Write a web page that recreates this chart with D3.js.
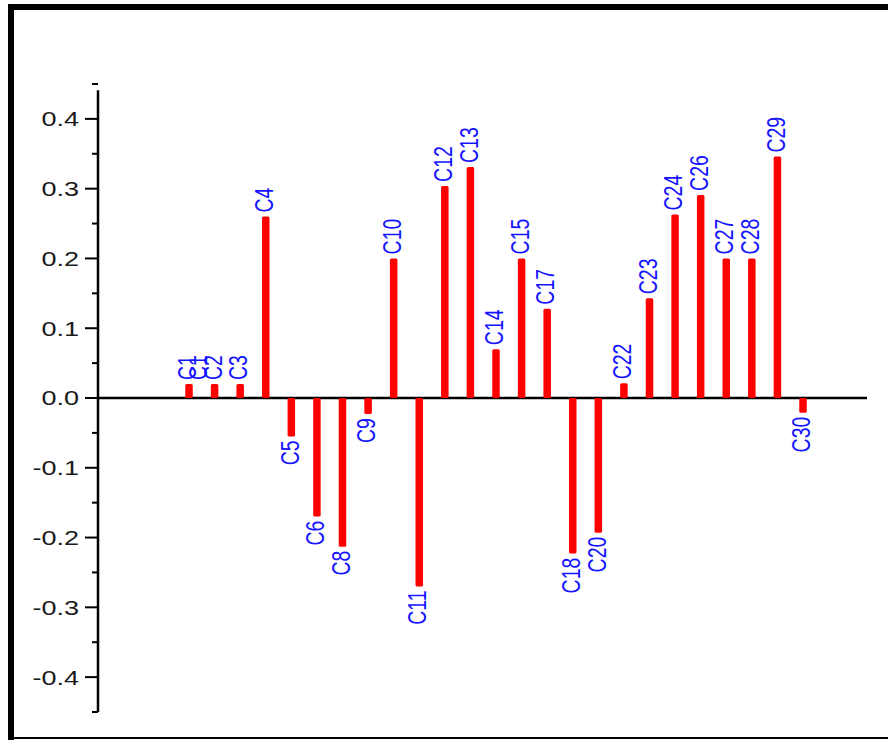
<!DOCTYPE html>
<html>
<head>
<meta charset="utf-8">
<script src="https://cdn.jsdelivr.net/npm/d3@7"></script>
<style>
  html, body { margin: 0; padding: 0; background: #fff; }
  svg { display: block; }
</style>
</head>
<body>
<svg id="chart" width="888" height="740"></svg>
<script>
// ---- data ----
const categories = ["C1","C2","C3","C4","C5","C6","C8","C9","C10","C11","C12","C13","C14","C15","C17","C18","C20","C22","C23","C24","C26","C27","C28","C29","C30"];
const values = [0.02,0.02,0.02,0.26,-0.055,-0.17,-0.213,-0.023,0.20,-0.27,0.304,0.331,0.07,0.20,0.128,-0.223,-0.193,0.021,0.143,0.263,0.291,0.20,0.20,0.346,-0.021];
// an overlapping extra label drawn next to C1 in the original
const extraLabels = ["C1"];
const extraLabelAnchor = ["C1"];
const extraLabelOffset = [0.42]; // in category steps
const yTicks = [-0.4,-0.3,-0.2,-0.1,0.0,0.1,0.2,0.3,0.4];
const yMinorTicks = [-0.45,-0.35,-0.25,-0.15,-0.05,0.05,0.15,0.25,0.35,0.45];

const svg = d3.select("#chart");
const W = 888, H = 740;
const hs = 1.32; // horizontal stretch of text in original

// frame
svg.append("rect").attr("x", 8).attr("y", 4).attr("width", 6).attr("height", H - 4).attr("fill", "#000");
svg.append("rect").attr("x", 8).attr("y", 4).attr("width", W - 8).attr("height", 6).attr("fill", "#000");
svg.append("rect").attr("x", 8).attr("y", 737).attr("width", W - 8).attr("height", 2).attr("fill", "#000");

// scales
const y = d3.scaleLinear().domain([-0.45, 0.45]).range([712, 84]);
const x = d3.scalePoint().domain(categories).range([189, 803]);
const axisX = 98;

// y axis line
svg.append("line")
  .attr("x1", axisX).attr("x2", axisX)
  .attr("y1", y(0.441)).attr("y2", y(-0.45))
  .attr("stroke", "#000").attr("stroke-width", 2.5);

// major ticks
svg.selectAll(".major").data(yTicks).join("line")
  .attr("x1", axisX - 13).attr("x2", axisX)
  .attr("y1", d => y(d)).attr("y2", d => y(d))
  .attr("stroke", "#000").attr("stroke-width", 2);
// minor ticks
svg.selectAll(".minor").data(yMinorTicks).join("line")
  .attr("x1", axisX - 6).attr("x2", axisX)
  .attr("y1", d => y(d)).attr("y2", d => y(d))
  .attr("stroke", "#000").attr("stroke-width", 2);

// tick labels
svg.selectAll(".tl").data(yTicks).join("text")
  .attr("transform", d => `translate(79,${y(d)}) scale(${hs},1)`)
  .attr("dy", "0.36em")
  .attr("text-anchor", "end")
  .attr("font-family", "Liberation Sans, Arial, sans-serif")
  .attr("font-size", 20.5)
  .attr("fill", "#1a1a1a")
  .text(d => d.toFixed(1));

// zero line
svg.append("line")
  .attr("x1", axisX).attr("x2", 867)
  .attr("y1", y(0)).attr("y2", y(0))
  .attr("stroke", "#000").attr("stroke-width", 2.4);

// bars
const data = categories.map((c, i) => ({ c, v: values[i] }));
svg.selectAll(".bar").data(data).join("rect")
  .attr("x", d => x(d.c) - 3.75)
  .attr("width", 7.5)
  .attr("y", d => Math.min(y(d.v), y(0)))
  .attr("height", d => Math.abs(y(d.v) - y(0)))
  .attr("rx", 1.5)
  .attr("fill", "#ff0000");

// bar labels
const labelFont = "Liberation Sans, Arial, sans-serif";
function labelPos(v) { return v >= 0 ? y(v) - 4 : y(v) + 4; }
svg.selectAll(".bl").data(data).join("text")
  .attr("transform", d => `translate(${x(d.c)},${labelPos(d.v)}) scale(${hs},1) rotate(-90)`)
  .attr("dy", "0.28em")
  .attr("text-anchor", d => d.v >= 0 ? "start" : "end")
  .attr("font-family", labelFont)
  .attr("font-size", 19.5)
  .attr("fill", "#1414ff")
  .text(d => d.c);

// extra overlapping label
extraLabels.forEach((lab, i) => {
  const idx = categories.indexOf(extraLabelAnchor[i]);
  const v = values[idx];
  const px = x(extraLabelAnchor[i]) + x.step() * extraLabelOffset[i];
  svg.append("text")
    .attr("transform", `translate(${px},${labelPos(v)}) scale(${hs},1) rotate(-90)`)
    .attr("dy", "0.28em")
    .attr("text-anchor", "start")
    .attr("font-family", labelFont)
    .attr("font-size", 19.5)
    .attr("fill", "#1414ff")
    .text(lab);
});
</script>
</body>
</html>
